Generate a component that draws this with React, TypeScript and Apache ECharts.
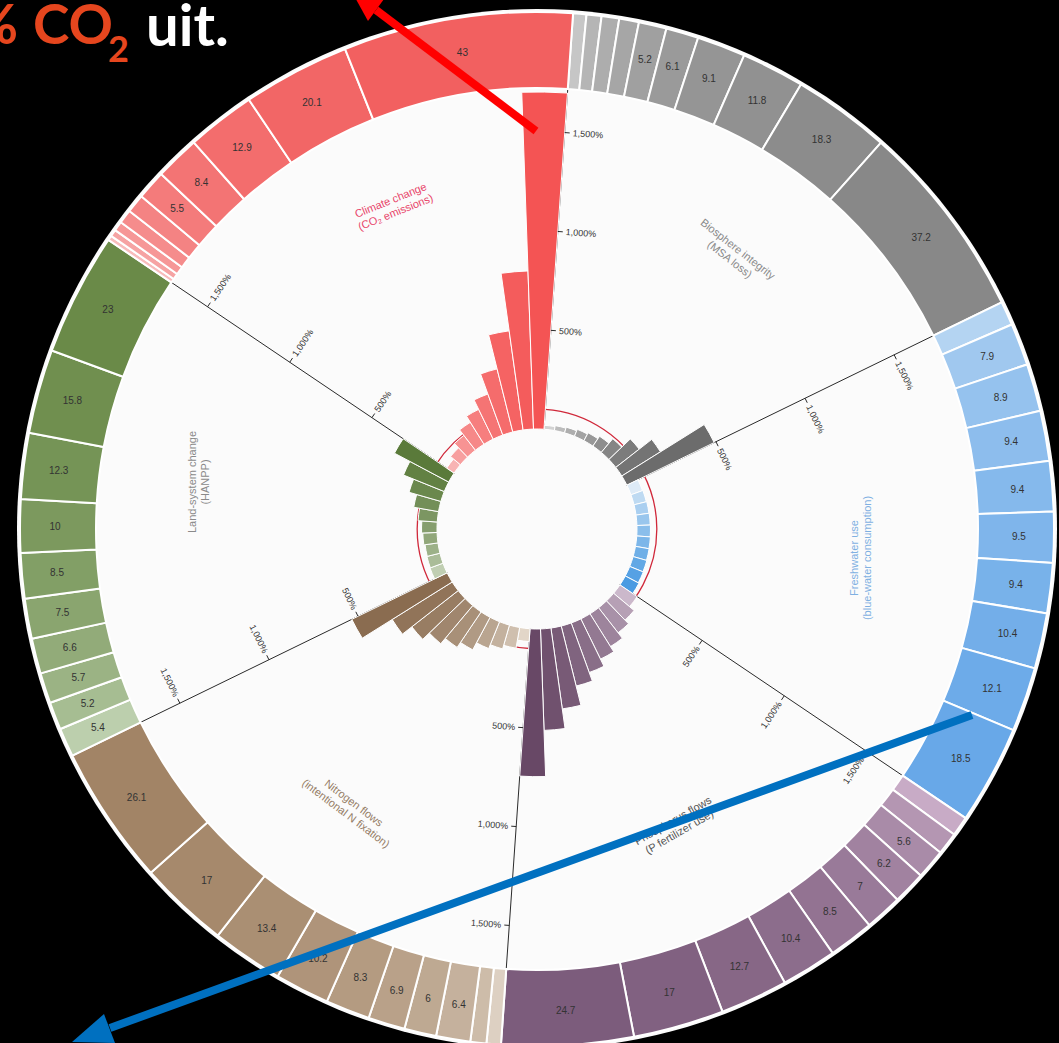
import React, { useEffect, useRef } from 'react';
import * as echarts from 'echarts';

// ---- Data (deciles 1..10, ordered clockwise inside each sector) ----
const sectorNames = ['Biosphere integrity', 'Freshwater use', 'Phosphorus flows', 'Nitrogen flows', 'Land-system change', 'Climate change'];
const decileLabels = ['D1', 'D2', 'D3', 'D4', 'D5', 'D6', 'D7', 'D8', 'D9', 'D10'];

// inner bars: % of per-capita boundary
const biosphereBars = [20, 25, 30, 38, 45, 60, 90, 150, 230, 490];
const freshwaterBars = [62, 64, 66, 67, 68, 69, 70, 72, 74, 78];
const phosphorusBars = [105, 135, 160, 195, 226, 266, 312, 412, 512, 745];
const nitrogenBars = [65, 106, 125, 146, 186, 216, 251, 297, 357, 535];
const landBars = [70, 68, 66, 72, 78, 97, 127, 167, 222, 310];
const climateBars = [45, 65, 95, 130, 167, 220, 328, 505, 798, 1700];

// outer ring: share (%) of each decile
const biosphereShares = [2.5, 2.8, 3.3, 3.7, 5.2, 6.1, 9.1, 11.8, 18.3, 37.2];
const freshwaterShares = [4.5, 7.9, 8.9, 9.4, 9.4, 9.5, 9.4, 10.4, 12.1, 18.5];
const phosphorusShares = [3.7, 4.2, 5.6, 6.2, 7, 8.5, 10.4, 12.7, 17, 24.7];
const nitrogenShares = [2.7, 3.0, 6.4, 6, 6.9, 8.3, 10.2, 13.4, 17, 26.1];
const landShares = [5.4, 5.2, 5.7, 6.6, 7.5, 8.5, 10, 12.3, 15.8, 23];
const climateShares = [0.9, 1.3, 1.8, 2.6, 3.5, 5.5, 8.4, 12.9, 20.1, 43];

const radialTicks = [500, 1000, 1500];
const referenceLevel = 100;

// ---- Layout / style ----
const CX = 537;
const CY = 529;
const BAR_INNER = 100;
const BAR_OUTER = 441;
const RING_OUTER = 517;
const RADIUS_MAX = 1720;
const START = 86;

const barPalettes = [
  ['#d2d2d2', '#6c6c6c'],
  ['#deebf7', '#4a9be2'],
  ['#cbb8cb', '#684866'],
  ['#e2d6c8', '#8a6c50'],
  ['#c0ceb2', '#5a7a3a'],
  ['#f8b4b4', '#f45454'],
];
const ringPalettes = [
  ['#c6c6c6', '#888888'],
  ['#b4d4f2', '#68a8e8'],
  ['#c8abc6', '#7c5c7c'],
  ['#ddd0c2', '#a28466'],
  ['#bccfad', '#6a8a48'],
  ['#f8bcbc', '#f26060'],
];

export default function App() {
  const ref = useRef<HTMLDivElement>(null);

  useEffect(() => {
    const chart = echarts.init(ref.current as HTMLDivElement, null, { renderer: 'svg' });
    const barSets = [biosphereBars, freshwaterBars, phosphorusBars, nitrogenBars, landBars, climateBars];
    const shareSets = [biosphereShares, freshwaterShares, phosphorusShares, nitrogenShares, landShares, climateShares];

    const cats: string[] = [];
    const barData: any[] = [];
    const ringData: any[] = [];
    barSets.forEach((vals, s) => {
      vals.forEach((v, i) => {
        const t = Math.pow(i / 9, 0.7);
        cats.push(sectorNames[s] + ' ' + decileLabels[i]);
        barData.push({ value: v, itemStyle: { color: echarts.color.lerp(t, barPalettes[s]) } });
      });
    });
    shareSets.forEach((vals, s) => {
      vals.forEach((v, i) => {
        const t = Math.pow(i / 9, 0.6);
        ringData.push({
          name: sectorNames[s] + ' ' + decileLabels[i],
          value: v,
          itemStyle: { color: echarts.color.lerp(t, ringPalettes[s]) },
        });
      });
    });

    const axisAngles = [0, 1, 2, 3, 4, 5].map((k) => {
      let a = START - 60 * k;
      if (a < -180) a += 360;
      return a;
    });
    const labelRot = axisAngles.map((a) => {
      let r = a - 90;
      while (r < -90) r += 180;
      while (r > 90) r -= 180;
      return r;
    });

    const hiddenAngle = {
      axisLine: { show: false },
      axisTick: { show: false },
      axisLabel: { show: false },
      splitLine: { show: false },
      splitArea: { show: false },
    };

    const titleStyle = (text: string, color: string) => ({
      text,
      fill: color,
      font: '11px "Liberation Sans", Arial, sans-serif',
      align: 'center',
      verticalAlign: 'middle',
      textAlign: 'center',
      textVerticalAlign: 'middle',
      lineHeight: 13,
    });
    const headFont = 'bold 55px Lato, "Open Sans", sans-serif';
    const headStyle = (text: string, fill: string, align: string, font = headFont, lineHeight = 40) => ({
      text, fill, font, align, verticalAlign: 'middle', textAlign: align, textVerticalAlign: 'middle', lineHeight,
    });

    const deg = Math.PI / 180;

    const graphics: any[] = [
      { id: 'disc', type: 'circle', z: -10, silent: true, shape: { cx: CX, cy: CY, r: RING_OUTER + 3 }, style: { fill: '#fbfbfb' } },
      { id: 't-climate', type: 'text', z: 5, x: 393, y: 206, rotation: 22 * deg, style: titleStyle('Climate change\n(CO₂ emissions)', '#e8456a') },
      { id: 't-bio', type: 'text', z: 5, x: 734, y: 254, rotation: -38 * deg, style: titleStyle('Biosphere integrity\n(MSA loss)', '#8a8a8a') },
      { id: 't-fresh', type: 'text', z: 5, x: 860, y: 558, rotation: 90 * deg, style: titleStyle('Freshwater use\n(blue-water consumption)', '#7fb0e2') },
      { id: 't-phos', type: 'text', z: 5, x: 676, y: 826, rotation: 30 * deg, style: titleStyle('Phosphorus flows\n(P fertilizer use)', '#555555') },
      { id: 't-nit', type: 'text', z: 5, x: 350, y: 808, rotation: -37 * deg, style: titleStyle('Nitrogen flows\n(intentional N fixation)', '#957d66') },
      { id: 't-land', type: 'text', z: 5, x: 198, y: 482, rotation: 90 * deg, style: titleStyle('Land-system change\n(HANPP)', '#8a8a8a') },
      // headline (cut off on the left, as in the source slide)
      { id: 'h1', type: 'text', z: 20, x: 18, y: 23, style: headStyle('%', '#e6461e', 'right') },
      { id: 'h2', type: 'text', z: 20, x: 33, y: 23, style: headStyle('CO', '#e6461e', 'left') },
      { id: 'h3', type: 'text', z: 20, x: 108, y: 48, style: headStyle('2', '#e6461e', 'left', 'bold 36px Lato, "Open Sans", sans-serif', 26) },
      { id: 'h4', type: 'text', z: 20, x: 146, y: 23, style: headStyle('uit.', '#ffffff', 'left', 'bold 58px Lato, "Open Sans", sans-serif') },
      // red arrow
      { id: 'ra-l', type: 'line', z: 30, shape: { x1: 536, y1: 131, x2: 376, y2: 10 }, style: { stroke: '#ff0000', lineWidth: 8 } },
      { id: 'ra-h', type: 'polygon', z: 30, shape: { points: [[352, -8], [384, -1], [368, 21]] }, style: { fill: '#ff0000' } },
      // blue arrow
      { id: 'ba-l', type: 'line', z: 30, shape: { x1: 972, y1: 715, x2: 110, y2: 1028 }, style: { stroke: '#0070c0', lineWidth: 8 } },
      { id: 'ba-h', type: 'polygon', z: 30, shape: { points: [[72, 1042], [115, 1043], [104, 1014]] }, style: { fill: '#0070c0' } },
    ];

    const option: any = {
      animation: false,
      backgroundColor: '#000000',
      polar: axisAngles.map(() => ({ center: [CX, CY], radius: [BAR_INNER, BAR_OUTER] })),
      angleAxis: axisAngles.map((a, k) =>
        k === 0
          ? { polarIndex: 0, type: 'category', data: cats, startAngle: START, clockwise: true, boundaryGap: true, ...hiddenAngle }
          : { polarIndex: k, type: 'value', min: 0, max: 360, startAngle: a, clockwise: true, ...hiddenAngle }
      ),
      radiusAxis: axisAngles.map((a, k) => ({
        polarIndex: k,
        type: 'value',
        min: 0,
        max: RADIUS_MAX,
        interval: 500,
        z: 1,
        axisLine: { show: true, lineStyle: { color: '#2a2a2a', width: 1 } },
        axisTick: { show: false },
        axisLabel: { show: false },
        splitLine: { show: false },
        splitArea: { show: false },
      })),
      graphic: { elements: graphics },
      series: [
        {
          type: 'bar',
          coordinateSystem: 'polar',
          polarIndex: 0,
          data: barData,
          barCategoryGap: '0%',
          z: 3,
          silent: true,
          itemStyle: { borderColor: '#ffffff', borderWidth: 1 },
        },
        {
          type: 'pie',
          center: [CX, CY],
          radius: [BAR_OUTER, RING_OUTER],
          startAngle: START,
          clockwise: true,
          silent: true,
          z: 2,
          avoidLabelOverlap: false,
          minShowLabelAngle: 0,
          data: ringData,
          itemStyle: { borderColor: '#ffffff', borderWidth: 2 },
          label: {
            show: true,
            position: 'inside',
            fontSize: 10,
            color: '#333333',
            fontFamily: '"Liberation Sans", Arial, sans-serif',
            formatter: (p: any) => (p.value >= 5 ? String(p.value) : ''),
          },
          labelLine: { show: false },
          emphasis: { disabled: true },
        },
      ],
    };

    chart.setOption(option);

    // radius in pixels for a value, through the bar series' polar scale
    const pxRadius = (v: number) => {
      let r = BAR_INNER + ((BAR_OUTER - BAR_INNER) * v) / RADIUS_MAX;
      try {
        const p = chart.convertToPixel({ seriesIndex: 0 } as any, [v, 0]) as any;
        if (p && isFinite(p[0])) r = Math.hypot(p[0] - CX, p[1] - CY);
      } catch (e) {
        /* keep fallback */
      }
      return r;
    };

    const extra: any[] = [
      { id: 'ref100', type: 'circle', z: 1, silent: true, shape: { cx: CX, cy: CY, r: pxRadius(referenceLevel) }, style: { fill: 'none', stroke: '#d0283a', lineWidth: 1.3 } },
    ];
    axisAngles.forEach((a, k) => {
      const ua = a * deg;
      const ux = Math.cos(ua);
      const uy = -Math.sin(ua);
      const na = (a - 90) * deg;
      const nx = Math.cos(na);
      const ny = -Math.sin(na);
      const rot = labelRot[k];
      const tx = Math.cos(rot * deg);
      const ty = -Math.sin(rot * deg);
      const align = tx * nx + ty * ny > 0 ? 'left' : 'right';
      radialTicks.forEach((v, j) => {
        const r = pxRadius(v);
        const px = CX + r * ux;
        const py = CY + r * uy;
        extra.push({
          id: `tick-${k}-${j}`, type: 'line', z: 6, silent: true,
          shape: { x1: px, y1: py, x2: px + 5 * nx, y2: py + 5 * ny },
          style: { stroke: '#2a2a2a', lineWidth: 1 },
        });
        extra.push({
          id: `tl-${k}-${j}`, type: 'text', z: 6, silent: true,
          x: px + 8 * nx, y: py + 8 * ny, rotation: rot * deg,
          style: {
            text: v.toLocaleString('en-US') + '%',
            fill: '#333333',
            font: '9px "Liberation Sans", Arial, sans-serif',
            align, verticalAlign: 'middle', textAlign: align, textVerticalAlign: 'middle',
          },
        });
      });
    });
    chart.setOption({ graphic: { elements: extra } });

    return () => chart.dispose();
  }, []);

  return <div ref={ref} style={{ position: 'fixed', left: 0, top: 0, width: 1059, height: 1043 }} />;
}
